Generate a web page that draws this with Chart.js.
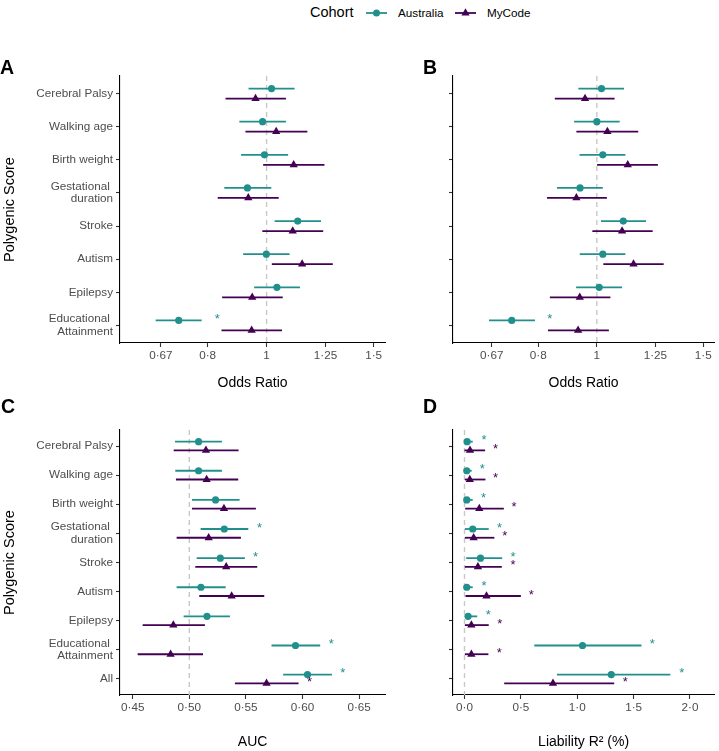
<!DOCTYPE html>
<html>
<head>
<meta charset="utf-8">
<script src="https://cdn.jsdelivr.net/npm/chart.js@4.4.1/dist/chart.umd.min.js"></script>
<style>
  body { margin: 0; background: #fff; font-family: "Liberation Sans", Arial, sans-serif; }
  #wrap { position: relative; width: 719px; height: 751px; overflow: hidden; }
  canvas { position: absolute; }
  .tag { position: absolute; font-weight: bold; font-size: 19.5px; line-height: 19.5px; }
  .lg { position: absolute; white-space: nowrap; }
</style>
</head>
<body>
<div id="wrap">
  <div class="lg" style="left:310px;top:5px;font-size:14.5px;line-height:14.5px;">Cohort</div>
  <svg class="lg" style="left:363px;top:6px" width="28" height="14">
    <line x1="3" y1="7" x2="24" y2="7" stroke="#21908C" stroke-width="1.8"/>
    <circle cx="13.5" cy="7" r="3.5" fill="#21908C"/>
  </svg>
  <div class="lg" style="left:398px;top:6.6px;font-size:11.7px;line-height:11.7px;">Australia</div>
  <svg class="lg" style="left:452px;top:6px" width="28" height="14">
    <line x1="3" y1="7" x2="24" y2="7" stroke="#440154" stroke-width="1.8"/>
    <polygon points="13.5,2.3 17.6,9.4 9.4,9.4" fill="#440154"/>
  </svg>
  <div class="lg" style="left:487px;top:6.6px;font-size:11.7px;line-height:11.7px;">MyCode</div>

  <canvas id="cA" width="390" height="360" style="left:0;top:40px"></canvas>
  <canvas id="cB" width="359" height="360" style="left:360px;top:40px"></canvas>
  <canvas id="cC" width="390" height="351" style="left:0;top:400px"></canvas>
  <canvas id="cD" width="359" height="351" style="left:360px;top:400px"></canvas>

  <div class="tag" style="left:0;top:57.5px">A</div>
  <div class="tag" style="left:423px;top:57.5px">B</div>
  <div class="tag" style="left:1px;top:396.5px">C</div>
  <div class="tag" style="left:423px;top:396.5px">D</div>
</div>

<script>
// polygenic scores (rows, top to bottom)
const scores = ["Cerebral Palsy", "Walking age", "Birth weight", ["Gestational ", "duration"],
  "Stroke", "Autism", "Epilepsy", ["Educational ", "Attainment"]];
const scoresAll = scores.concat(["All"]);

// x axis ticks
const orTicks = [0.67, 0.8, 1, 1.25, 1.5];
const orTickLabels = ["0·67", "0·8", "1", "1·25", "1·5"];
const aucTicks = [0.45, 0.5, 0.55, 0.6, 0.65];
const aucTickLabels = ["0·45", "0·50", "0·55", "0·60", "0·65"];
const r2Ticks = [0, 0.5, 1, 1.5, 2];
const r2TickLabels = ["0·0", "0·5", "1·0", "1·5", "2·0"];

// A: odds ratios
const aAusOR = [1.019, 0.985, 0.992, 0.930, 1.125, 0.999, 1.040, 0.717];
const aAusLo = [0.934, 0.902, 0.908, 0.852, 1.031, 0.915, 0.954, 0.657];
const aAusHi = [1.112, 1.076, 1.085, 1.018, 1.229, 1.091, 1.135, 0.782];
const aMyOR = [0.959, 1.037, 1.108, 0.933, 1.104, 1.144, 0.947, 0.945];
const aMyLo = [0.856, 0.923, 0.987, 0.831, 0.984, 1.020, 0.845, 0.843];
const aMyHi = [1.076, 1.167, 1.245, 1.047, 1.239, 1.285, 1.063, 1.060];
const aAusStar = [null, null, null, null, null, null, null, 0.830];
const aMyStar = [null, null, null, null, null, null, null, null];

// B: odds ratios
const bAusOR = [1.018, 1.000, 1.023, 0.938, 1.106, 1.023, 1.009, 0.723];
const bAusLo = [0.932, 0.917, 0.936, 0.859, 1.016, 0.937, 0.924, 0.663];
const bAusHi = [1.109, 1.091, 1.115, 1.023, 1.206, 1.115, 1.101, 0.790];
const bMyOR = [0.956, 1.041, 1.125, 0.925, 1.101, 1.150, 0.937, 0.931];
const bMyLo = [0.852, 0.925, 1.001, 0.827, 0.983, 1.025, 0.836, 0.830];
const bMyHi = [1.070, 1.171, 1.262, 1.039, 1.237, 1.290, 1.053, 1.047];
const bAusStar = [null, null, null, null, null, null, null, 0.836];
const bMyStar = [null, null, null, null, null, null, null, null];

// C: AUC
const cAusAUC = [0.5082, 0.5082, 0.5232, 0.5309, 0.5274, 0.5103, 0.5156, 0.5938, 0.6044];
const cAusLo = [0.4874, 0.4876, 0.5024, 0.5100, 0.5065, 0.4888, 0.4950, 0.5726, 0.5829];
const cAusHi = [0.5288, 0.5288, 0.5444, 0.5521, 0.5491, 0.5321, 0.5359, 0.6156, 0.6259];
const cMyAUC = [0.5147, 0.5153, 0.5306, 0.5171, 0.5326, 0.5374, 0.4859, 0.4835, 0.5682];
const cMyLo = [0.4862, 0.4882, 0.5024, 0.4888, 0.5053, 0.5088, 0.4588, 0.4544, 0.5403];
const cMyHi = [0.5435, 0.5432, 0.5588, 0.5456, 0.5600, 0.5662, 0.5138, 0.5121, 0.5965];
const cAusStar = [null, null, null, 0.5621, 0.5585, null, null, 0.6253, 0.6356];
const cMyStar = [null, null, null, null, null, null, null, null, 0.6062];

// D: liability R2 (%)
const dAusR2 = [0.023, 0.020, 0.020, 0.073, 0.142, 0.020, 0.032, 1.047, 1.302];
const dAusLo = [0.000, 0.000, 0.000, 0.003, 0.015, 0.000, 0.003, 0.619, 0.820];
const dAusHi = [0.073, 0.064, 0.073, 0.215, 0.334, 0.073, 0.113, 1.570, 1.826];
const dMyR2 = [0.049, 0.047, 0.131, 0.081, 0.119, 0.195, 0.061, 0.061, 0.785];
const dMyLo = [0.000, 0.003, 0.006, 0.003, 0.003, 0.009, 0.003, 0.003, 0.352];
const dMyHi = [0.183, 0.186, 0.349, 0.265, 0.331, 0.500, 0.215, 0.212, 1.328];
const dAusStar = [0.174, 0.157, 0.169, 0.311, 0.430, 0.174, 0.212, 1.666, 1.927];
const dMyStar = [0.276, 0.276, 0.439, 0.358, 0.430, 0.593, 0.314, 0.308, 1.427];

const AUS_COL = "#21908C";
const MY_COL = "#440154";
const DODGE = 0.15;
const FONT = '"Liberation Sans", Arial, sans-serif';
Chart.defaults.font.family = FONT;

// error bars, reference line and significance stars
const forestPlugin = {
  id: "forest",
  beforeDatasetsDraw(chart, args, opts) {
    const { ctx, chartArea, scales: { x, y } } = chart;
    ctx.save();
    const rx = x.getPixelForValue(opts.ref);
    ctx.strokeStyle = "#C8C8C8";
    ctx.lineWidth = 1.4;
    ctx.setLineDash([5, 4]);
    ctx.beginPath();
    ctx.moveTo(rx, chartArea.top);
    ctx.lineTo(rx, chartArea.bottom);
    ctx.stroke();
    ctx.setLineDash([]);
    chart.data.datasets.forEach(ds => {
      ctx.strokeStyle = ds.borderColor;
      ctx.lineWidth = 1.8;
      ds.data.forEach((p, i) => {
        const py = y.getPixelForValue(p.y);
        ctx.beginPath();
        ctx.moveTo(x.getPixelForValue(ds.lo[i]), py);
        ctx.lineTo(x.getPixelForValue(ds.hi[i]), py);
        ctx.stroke();
      });
    });
    ctx.restore();
  },
  afterDatasetsDraw(chart) {
    const { ctx, scales: { x, y } } = chart;
    ctx.save();
    ctx.font = "13px " + FONT;
    ctx.textAlign = "center";
    ctx.textBaseline = "middle";
    chart.data.datasets.forEach(ds => {
      ctx.fillStyle = ds.borderColor;
      ds.data.forEach((p, i) => {
        if (ds.stars[i] == null) return;
        ctx.fillText("*", x.getPixelForValue(ds.stars[i]), y.getPixelForValue(p.y) - 1);
      });
    });
    ctx.restore();
  }
};

function series(label, est, lo, hi, stars, off, color, style, radius) {
  return {
    label: label,
    data: est.map((v, i) => ({ x: v, y: i + off })),
    lo: lo, hi: hi, stars: stars,
    backgroundColor: color,
    borderColor: color,
    borderWidth: 0,
    pointStyle: style,
    pointRadius: radius,
    pointHoverRadius: radius
  };
}

function makePanel(id, p) {
  const rows = p.rows;
  new Chart(document.getElementById(id), {
    type: "scatter",
    data: {
      datasets: [
        series("Australia", p.aus[0], p.aus[1], p.aus[2], p.aus[3], -DODGE, AUS_COL, "circle", 3.6),
        series("MyCode", p.my[0], p.my[1], p.my[2], p.my[3], DODGE, MY_COL, "triangle", 4.8)
      ]
    },
    plugins: [forestPlugin],
    options: {
      responsive: false,
      animation: false,
      events: [],
      layout: { padding: { top: p.padTop, right: p.padRight, left: 0, bottom: 0 } },
      plugins: {
        legend: { display: false },
        tooltip: { enabled: false },
        forest: { ref: p.ref }
      },
      scales: {
        x: {
          type: p.xType,
          min: p.xMin,
          max: p.xMax,
          afterBuildTicks: s => { s.ticks = p.xTicks.map(v => ({ value: v })); },
          afterFit: s => { s.height = p.xHeight; },
          ticks: {
            autoSkip: false, maxRotation: 0, padding: 2,
            color: "#4D4D4D", font: { size: 11.7 },
            callback: (v, i) => p.xTickLabels[i]
          },
          grid: { drawOnChartArea: false, drawTicks: true, tickLength: 4, tickColor: "#333333", tickWidth: 1.1 },
          border: { display: true, color: "#000000", width: 1.1 },
          title: {
            display: true, text: p.xTitle, color: "#000000",
            font: { size: 14, lineHeight: 1.2 },
            padding: { top: 0, bottom: p.titlePadBottom }
          }
        },
        y: {
          type: "linear",
          reverse: true,
          min: -p.expand,
          max: rows.length - 1 + p.expand,
          afterBuildTicks: s => { s.ticks = rows.map((r, i) => ({ value: i })); },
          afterFit: s => { s.width = p.yWidth; },
          ticks: {
            autoSkip: false, padding: 3,
            color: "#4D4D4D", font: { size: 11.7, lineHeight: 1.08 },
            callback: v => (p.showLabels ? rows[v] : "")
          },
          grid: { drawOnChartArea: false, drawTicks: true, tickLength: 4, tickColor: "#333333", tickWidth: 1.1 },
          border: { display: true, color: "#000000", width: 1.1 },
          title: {
            display: p.showLabels, text: "Polygenic Score", color: "#000000",
            font: { size: 14.5, lineHeight: 1.2 },
            padding: { top: 1, bottom: 0 }
          }
        }
      }
    }
  });
}

makePanel("cA", {
  rows: scores, expand: 0.53, showLabels: true, yWidth: 120, padTop: 36, padRight: 4,
  xType: "logarithmic", xMin: 0.574, xMax: 1.567, xTicks: orTicks, xTickLabels: orTickLabels,
  xTitle: "Odds Ratio", xHeight: 57, titlePadBottom: 8.6, ref: 1,
  aus: [aAusOR, aAusLo, aAusHi, aAusStar], my: [aMyOR, aMyLo, aMyHi, aMyStar]
});
makePanel("cB", {
  rows: scores, expand: 0.53, showLabels: false, yWidth: 93, padTop: 36, padRight: 0,
  xType: "logarithmic", xMin: 0.578, xMax: 1.564, xTicks: orTicks, xTickLabels: orTickLabels,
  xTitle: "Odds Ratio", xHeight: 57, titlePadBottom: 8.6, ref: 1,
  aus: [bAusOR, bAusLo, bAusHi, bAusStar], my: [bMyOR, bMyLo, bMyHi, bMyStar]
});
makePanel("cC", {
  rows: scoresAll, expand: 0.55, showLabels: true, yWidth: 120, padTop: 30, padRight: 4,
  xType: "linear", xMin: 0.4388, xMax: 0.673, xTicks: aucTicks, xTickLabels: aucTickLabels,
  xTitle: "AUC", xHeight: 56, titlePadBottom: 0, ref: 0.5,
  aus: [cAusAUC, cAusLo, cAusHi, cAusStar], my: [cMyAUC, cMyLo, cMyHi, cMyStar]
});
makePanel("cD", {
  rows: scoresAll, expand: 0.55, showLabels: false, yWidth: 93, padTop: 30, padRight: 0,
  xType: "linear", xMin: -0.102, xMax: 2.215, xTicks: r2Ticks, xTickLabels: r2TickLabels,
  xTitle: "Liability R² (%)", xHeight: 56, titlePadBottom: 0, ref: 0,
  aus: [dAusR2, dAusLo, dAusHi, dAusStar], my: [dMyR2, dMyLo, dMyHi, dMyStar]
});
</script>
</body>
</html>
